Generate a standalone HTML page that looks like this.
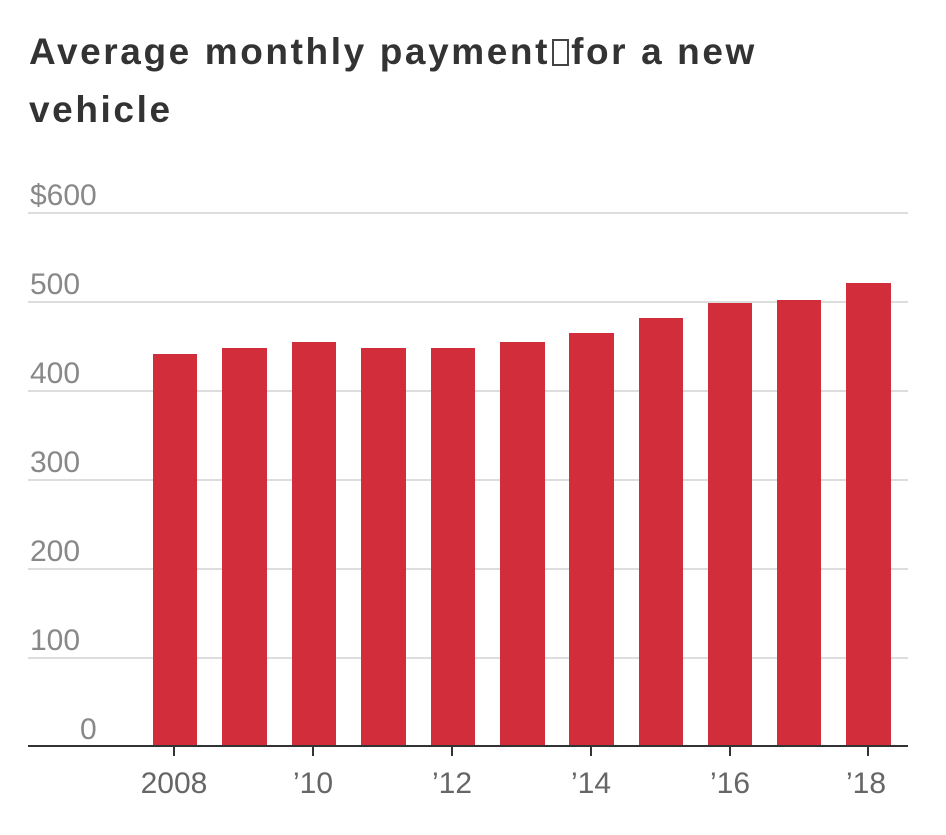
<!DOCTYPE html>
<html><head><meta charset="utf-8"><style>
html,body{margin:0;padding:0;background:#fff;width:946px;height:835px;overflow:hidden}
.t{position:absolute;left:29px;font-family:"Liberation Sans","DejaVu Sans",sans-serif;font-weight:bold;font-size:37px;color:#333;letter-spacing:2.6px}
.box{display:inline-block;width:17px;height:27px;border:2px solid #444;box-sizing:border-box;vertical-align:-2px;margin:0 2px 0 2px}
</style></head><body>
<div class="t" style="top:31px">Average monthly payment<span class="box"></span>for a new</div>
<div class="t" style="top:89px">vehicle</div>
<svg width="946" height="835" style="position:absolute;left:0;top:0" font-family="Liberation Sans, sans-serif">
<g stroke="#ddd" stroke-width="2">
<line x1="28" x2="908" y1="213" y2="213"/><line x1="28" x2="908" y1="302" y2="302"/>
<line x1="28" x2="908" y1="391" y2="391"/><line x1="28" x2="908" y1="480" y2="480"/>
<line x1="28" x2="908" y1="569" y2="569"/><line x1="28" x2="908" y1="658" y2="658"/>
</g>
<g fill="#888" font-size="30">
<text x="30" y="205">$600</text><text x="30" y="294">500</text><text x="30" y="383">400</text>
<text x="30" y="472">300</text><text x="30" y="561">200</text><text x="30" y="650">100</text>
<text x="80" y="739">0</text>
</g>
<g fill="#d12d3a">
<rect x="153" y="354" width="44" height="392"/>
<rect x="222" y="348" width="45" height="398"/>
<rect x="292" y="342" width="44" height="404"/>
<rect x="361" y="348" width="45" height="398"/>
<rect x="431" y="348" width="44" height="398"/>
<rect x="500" y="342" width="45" height="404"/>
<rect x="569" y="333" width="45" height="413"/>
<rect x="639" y="318" width="44" height="428"/>
<rect x="708" y="303" width="44" height="443"/>
<rect x="777" y="300" width="44" height="446"/>
<rect x="846" y="283" width="45" height="463"/>
</g>
<line x1="28" x2="908" y1="746" y2="746" stroke="#333" stroke-width="2"/>
<g stroke="#333" stroke-width="2">
<line x1="174" x2="174" y1="746" y2="756"/><line x1="313" x2="313" y1="746" y2="756"/>
<line x1="452" x2="452" y1="746" y2="756"/><line x1="591" x2="591" y1="746" y2="756"/>
<line x1="730" x2="730" y1="746" y2="756"/><line x1="868" x2="868" y1="746" y2="756"/>
</g>
<g fill="#666" font-size="30" text-anchor="middle">
<text x="174" y="793">2008</text><text x="313" y="793">’10</text><text x="452" y="793">’12</text>
<text x="591" y="793">’14</text><text x="730" y="793">’16</text><text x="866" y="793">’18</text>
</g>
</svg>
</body></html>
